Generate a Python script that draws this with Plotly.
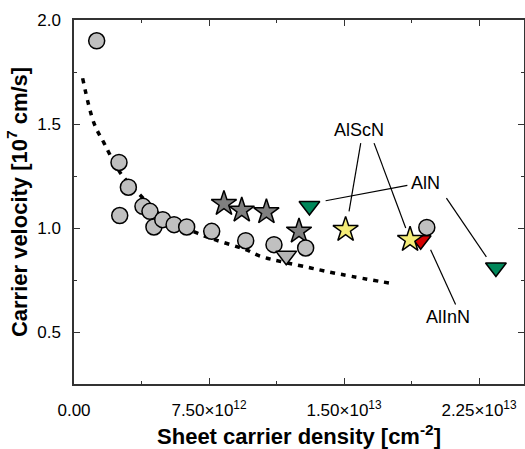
import plotly.graph_objects as go

# ---- data ----
circ_x = [1.26e12, 2.50e12, 3.02e12, 2.54e12, 3.83e12, 4.22e12, 4.44e12, 4.93e12,
          5.56e12, 6.26e12, 7.65e12, 9.54e12, 11.11e12, 12.87e12, 19.6e12]
circ_y = [1.90, 1.315, 1.196, 1.060, 1.104, 1.080, 1.005, 1.040,
          1.016, 1.005, 0.984, 0.939, 0.920, 0.904, 1.003]

dstar_x = [8.33e12, 9.32e12, 10.69e12, 12.5e12]
dstar_y = [1.117, 1.085, 1.077, 0.984]

gtri_x = [11.79e12]
gtri_y = [0.867]

aln_x = [13.08e12, 23.44e12]
aln_y = [1.106, 0.810]

alscn_x = [15.09e12, 18.67e12]
alscn_y = [0.992, 0.944]

alinn_x = [19.26e12]
alinn_y = [0.941]

fit_x = [0.48e12, 1.11e12, 1.67e12, 2.56e12, 3.8e12, 5.0e12, 6.86e12, 7.78e12,
         9.54e12, 10.37e12, 13.15e12, 14.9e12, 17.8e12]
fit_y = [1.72, 1.504, 1.408, 1.267, 1.147, 1.05, 0.975, 0.945,
         0.896, 0.864, 0.808, 0.776, 0.731]

x_tickvals = [0, 7.5e12, 1.5e13, 2.25e13]
x_ticktext = ["0.00", "7.50×10<sup>12</sup>", "1.50×10<sup>13</sup>", "2.25×10<sup>13</sup>"]
y_tickvals = [0.5, 1.0, 1.5, 2.0]
y_ticktext = ["0.5", "1.0", "1.5", "2.0"]

labels = [
    ("AlScN", 15.81e12, 1.472),
    ("AlN", 19.54e12, 1.217),
    ("AlInN", 20.76e12, 0.574),
]
leaders = [
    (15.93e12, 1.408, 15.28e12, 1.080),
    (16.67e12, 1.408, 18.43e12, 1.000),
    (18.52e12, 1.205, 13.98e12, 1.131),
    (20.69e12, 1.144, 22.91e12, 0.861),
    (21.20e12, 0.632, 19.81e12, 0.896),
]

FONT = "Liberation Sans, Arial, sans-serif"
outline = dict(color="black", width=1.5)

fig = go.Figure()
fig.add_trace(go.Scatter(x=fit_x, y=fit_y, mode="lines",
                         line=dict(color="black", width=3.5, dash="5px,6px"),
                         line_shape="spline", hoverinfo="skip"))
fig.add_trace(go.Scatter(x=dstar_x, y=dstar_y, mode="markers",
                         marker=dict(symbol="star", size=19, color="#7f7f7f", line=outline)))
fig.add_trace(go.Scatter(x=circ_x, y=circ_y, mode="markers",
                         marker=dict(symbol="circle", size=16, color="#c0c0c0", line=outline)))
fig.add_trace(go.Scatter(x=gtri_x, y=gtri_y, mode="markers",
                         marker=dict(symbol="triangle-down", size=18, color="#b4b4b4", line=outline)))
fig.add_trace(go.Scatter(x=alinn_x, y=alinn_y, mode="markers",
                         marker=dict(symbol="triangle-down", size=18, color="#d40000", line=outline)))
fig.add_trace(go.Scatter(x=aln_x, y=aln_y, mode="markers",
                         marker=dict(symbol="triangle-down", size=18, color="#00875a", line=outline)))
fig.add_trace(go.Scatter(x=alscn_x, y=alscn_y, mode="markers",
                         marker=dict(symbol="star", size=19, color="#f4ec78", line=outline)))

for x0, y0, x1, y1 in leaders:
    fig.add_shape(type="line", x0=x0, y0=y0, x1=x1, y1=y1, xref="x", yref="y",
                  line=dict(color="black", width=1.2))
for txt, lx, ly in labels:
    fig.add_annotation(x=lx, y=ly, text=txt, showarrow=False, xref="x", yref="y",
                       font=dict(family=FONT, size=18, color="black"))

axis_common = dict(showline=True, linecolor="#333333", linewidth=1.5, mirror="ticks",
                   ticks="inside", ticklen=6, tickwidth=1.2, tickcolor="#333333",
                   showgrid=False, zeroline=False,
                   tickfont=dict(family=FONT, size=17, color="black"))

fig.update_xaxes(range=[0, 2.5e13], tickvals=x_tickvals, ticktext=x_ticktext,
                 ticklabelstandoff=10,
                 minor=dict(ticks="inside", ticklen=3, tickwidth=1.2, tickcolor="#333333",
                            dtick=3.75e12, tick0=0),
                 title=dict(text="Sheet carrier density [cm<sup>-2</sup>]", standoff=10,
                            font=dict(family=FONT, size=22, color="black", weight="bold")),
                 **axis_common)
fig.update_yaxes(range=[0.25, 2.0], tickvals=y_tickvals, ticktext=y_ticktext,
                 ticklabelstandoff=8,
                 minor=dict(ticks="inside", ticklen=3, tickwidth=1.2, tickcolor="#333333",
                            dtick=0.25, tick0=0),
                 title=dict(text="Carrier velocity [10<sup>7</sup> cm/s]", standoff=4,
                            font=dict(family=FONT, size=22, color="black", weight="bold")),
                 **axis_common)

fig.update_layout(width=525, height=449, showlegend=False,
                  plot_bgcolor="white", paper_bgcolor="white",
                  margin=dict(l=74, r=1, t=20, b=65, autoexpand=False))
fig.write_html("out.html", config={"displayModeBar": False},
               post_script="document.body.style.margin='0';")
